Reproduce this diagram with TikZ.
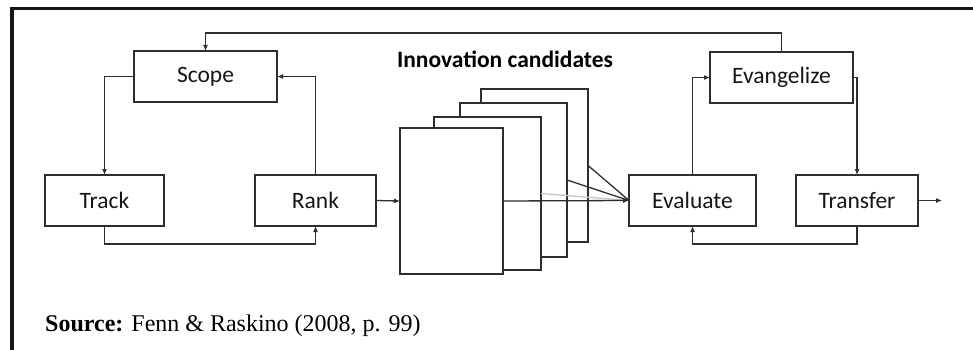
\documentclass[tikz,border=0pt]{standalone}
\usepackage{fontspec}
\setmainfont{Liberation Serif}
\newfontfamily\calib{Carlito}
\usetikzlibrary{arrows.meta}
\definecolor{ink}{HTML}{161616}
\definecolor{edge}{HTML}{2E2E2E}
\begin{document}
\begin{tikzpicture}[x=1pt,y=-1pt,
  stepbox/.style={draw=edge,line width=1.3pt,fill=white,inner sep=0pt,outer sep=0pt,
    font=\calib\fontsize{23.5}{26}\selectfont,text=ink},
  page/.style={draw=edge,line width=1.3pt,fill=white,inner sep=0pt,outer sep=0pt,
    minimum width=107pt,minimum height=153pt},
  link/.style={draw=edge,line width=1.3pt},
  arrow/.style={link,-{Latex[length=6pt,width=5pt]}}]
\useasboundingbox (0,0) rectangle (973,350);
% frame
\draw[ink,line width=3.5pt] (12,350) -- (12,8.5) -- (973,8.5);

% left cycle
\node[stepbox,minimum width=143pt,minimum height=51pt] (scope) at (205.5,76.5) {Scope};
\node[stepbox,minimum width=119pt,minimum height=51pt] (track) at (104.5,200.5) {Track};
\node[stepbox,minimum width=121pt,minimum height=51pt] (rank) at (315.5,200.5) {Rank};

% right cycle
\node[stepbox,minimum width=127pt,minimum height=51pt] (eval) at (692.5,200.5) {Evaluate};
\node[stepbox,minimum width=122pt,minimum height=51pt] (transfer) at (857,200.5) {Transfer};
\node[stepbox,minimum width=143pt,minimum height=51pt] (evan) at (781.5,77.5) {Evangelize};

% stack of candidate pages, back to front
\node[page] (p4) at (534.5,165.5) {};
\node[page,minimum height=154pt] (p3) at (513.5,180) {};
\node[page] (p2) at (487.5,193.5) {};
\node[page,minimum width=103pt,minimum height=146pt] (p1) at (451.5,201) {};
\node[font=\calib\bfseries\fontsize{23.5}{26}\selectfont,text=black,anchor=base] (title) at (505,68) {Innovation candidates};

\coordinate (top) at (0,33);
\coordinate (low) at (0,244);
\coordinate (out) at (942,200.5);

% connectors of the left cycle
\draw[arrow] (scope.west) -| (track.north);
\draw[arrow] (track.south) -- (track.south |- low) -| (rank.south);
\draw[arrow] (rank.north) |- (scope.east);
\draw[arrow] (rank.east) -- (p1.west);

% pages feeding the evaluation
\draw[link,draw=gray!45] (p2.east) -- (eval.west);
\draw[link] (p3.east) -- (eval.west);
\draw[link] (p4.east) -- (eval.west);
\draw[arrow] (p1.east) -- (eval.west);

% connectors of the right cycle
\draw[arrow] (eval.north) |- (evan.west);
\draw[arrow] (evan.east) -| (transfer.north);
\draw[arrow] (transfer.south) -- (transfer.south |- low) -| (eval.south);
\draw[arrow] (transfer.east) -- (out);
\draw[arrow] (evan.north) -- (evan.north |- top) -| (scope.north);

% source line
\node[anchor=base west,font=\fontsize{24}{28}\selectfont,text=black,inner sep=0pt] (src) at (45,331)
  {\textbf{Source:} Fenn \& Raskino (2008, p. 99)};
\end{tikzpicture}
\end{document}
